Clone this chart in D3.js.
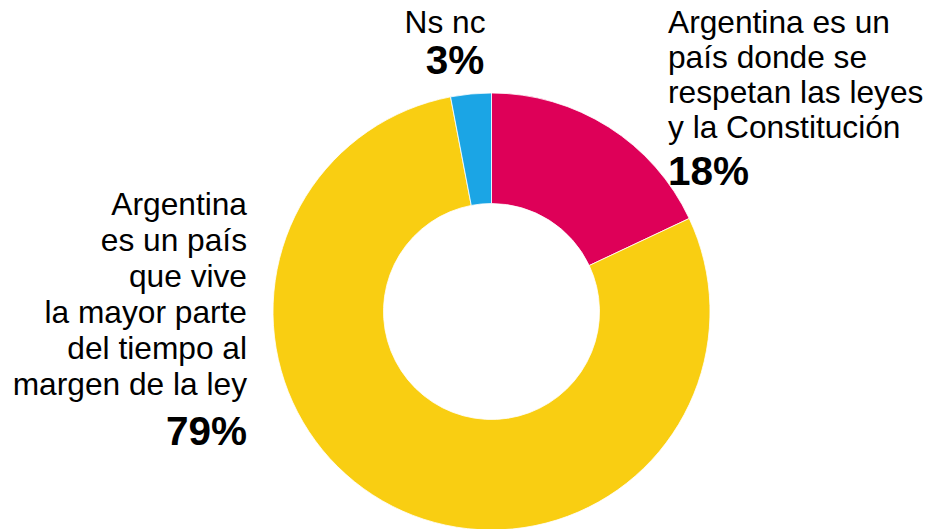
<!DOCTYPE html>
<html><head><meta charset="utf-8">
<script src="https://cdn.jsdelivr.net/npm/d3@7"></script>
<style>html,body{margin:0;padding:0;background:#fff;}svg{display:block;}</style>
</head><body>
<script>
const categories = ["Argentina es un país donde se respetan las leyes y la Constitución", "Argentina es un país que vive la mayor parte del tiempo al margen de la ley", "Ns nc"];
const values = [18, 79, 3];
const colors = ["#DE0058", "#F9CE12", "#1BA5E5"];
const labelLines = [
  ["Argentina es un", "país donde se", "respetan las leyes", "y la Constitución"],
  ["Argentina", "es un país", "que vive", "la mayor parte", "del tiempo al", "margen de la ley"],
  ["Ns nc"]
];
const pctLabels = ["18%", "79%", "3%"];

const W = 928, H = 529;
const cx = 491.5, cy = 311.5, rOuter = 218.5, rInner = 108;

const svg = d3.select("body").append("svg").attr("width", W).attr("height", H);
const g = svg.append("g").attr("transform", `translate(${cx},${cy})`);

const pie = d3.pie().sort(null).value(d => d)(values);
const arc = d3.arc().innerRadius(rInner).outerRadius(rOuter);
g.selectAll("path").data(pie).join("path")
  .attr("d", arc).attr("fill", (d, i) => colors[i])
  .attr("stroke", "#fff").attr("stroke-width", 0.8);

const font = "'Liberation Sans', Arial, sans-serif";
// label placement
const place = [
  {x: 668, y: 33, pitch: 35, anchor: "start", px: 668, py: 185},
  {x: 247, y: 215, pitch: 36, anchor: "end", px: 247, py: 445},
  {x: 445, y: 33, pitch: 35, anchor: "middle", px: 455, py: 74}
];
labelLines.forEach((lines, i) => {
  const p = place[i];
  const t = svg.append("text").attr("font-family", font).attr("font-size", 31.7)
    .attr("fill", "#000").attr("text-anchor", p.anchor);
  lines.forEach((l, j) => t.append("tspan").attr("x", p.x).attr("y", p.y + j * p.pitch).text(l));
  svg.append("text").attr("font-family", font).attr("font-size", 40.5).attr("font-weight", "bold")
    .attr("text-anchor", p.anchor).attr("x", p.px).attr("y", p.py).attr("fill", "#000").text(pctLabels[i]);
});
</script>
</body></html>
